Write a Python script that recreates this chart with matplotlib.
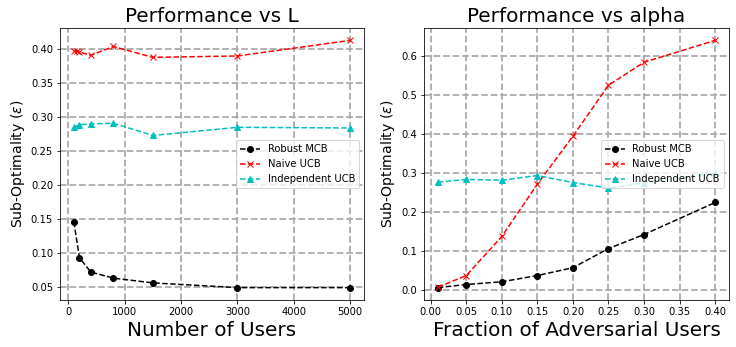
import numpy as np
import matplotlib
matplotlib.use("Agg")
import matplotlib.pyplot as plt

# Performance vs L (number of users)
users_mcb = [100, 200, 400, 800, 1500, 3000, 5000]
robust_mcb_L = [0.146, 0.093, 0.072, 0.063, 0.056, 0.049, 0.049]
users_naive = [100, 150, 200, 400, 800, 1500, 3000, 5000]
naive_ucb_L = [0.397, 0.397, 0.396, 0.391, 0.404, 0.388, 0.390, 0.413]
users_indep = [100, 200, 400, 800, 1500, 3000, 5000]
indep_ucb_L = [0.285, 0.289, 0.290, 0.291, 0.273, 0.285, 0.284]

# Performance vs alpha (fraction of adversarial users)
alphas = [0.01, 0.05, 0.10, 0.15, 0.20, 0.25, 0.30, 0.40]
robust_mcb_a = [0.007, 0.015, 0.022, 0.038, 0.058, 0.107, 0.143, 0.225]
naive_ucb_a = [0.008, 0.038, 0.138, 0.272, 0.395, 0.525, 0.584, 0.640]
indep_ucb_a = [0.277, 0.284, 0.282, 0.294, 0.276, 0.262, 0.275, 0.300]

fig = plt.figure(figsize=(736 / 72, 347 / 72), dpi=72)
ax1 = fig.add_axes([60 / 736, 47 / 347, 304 / 736, 272 / 347])
ax2 = fig.add_axes([424 / 736, 47 / 347, 305 / 736, 272 / 347])

def style(ax, title, xlabel):
    ax.set_title(title, fontsize=20)
    ax.set_xlabel(xlabel, fontsize=20)
    ax.set_ylabel(r'Sub-Optimality ($\epsilon$)', fontsize=14)
    ax.tick_params(labelsize=10)
    ax.grid(True, linestyle='--', linewidth=1.8, color='#aaaaaa')
    ax.set_axisbelow(True)
    ax.legend(loc='center right', fontsize=10)

ax1.plot(users_mcb, robust_mcb_L, 'k--o', label='Robust MCB')
ax1.plot(users_naive, naive_ucb_L, 'r--x', label='Naive UCB')
ax1.plot(users_indep, indep_ucb_L, 'c--^', label='Independent UCB')
ax1.set_yticks(np.arange(0.05, 0.41, 0.05))
style(ax1, 'Performance vs L', 'Number of Users')

ax2.plot(alphas, robust_mcb_a, 'k--o', label='Robust MCB')
ax2.plot(alphas, naive_ucb_a, 'r--x', label='Naive UCB')
ax2.plot(alphas, indep_ucb_a, 'c--^', label='Independent UCB')
ax2.set_xticks(np.arange(0.0, 0.41, 0.05))
style(ax2, 'Performance vs alpha', 'Fraction of Adversarial Users')

fig.savefig('out.png', dpi=72)
